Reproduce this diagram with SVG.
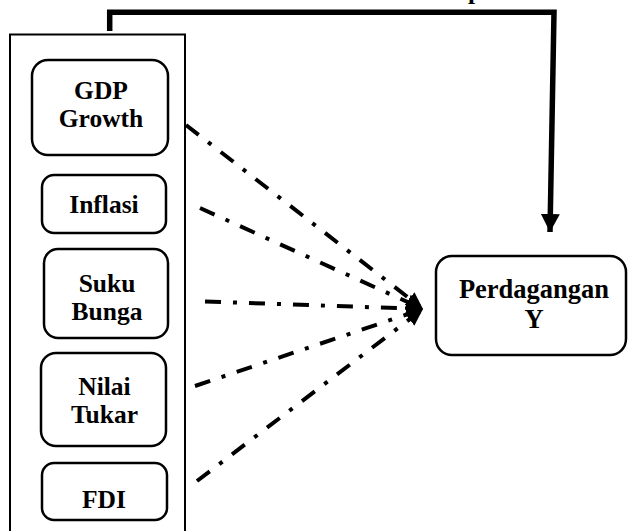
<svg xmlns="http://www.w3.org/2000/svg" width="628" height="531" viewBox="0 0 628 531">
<style>
.box{fill:#fff;stroke:#000;stroke-width:2.5}
.t{font-family:"Liberation Serif","Times New Roman",serif;font-weight:bold;font-size:25.5px;text-anchor:middle;fill:#000}
.dd{stroke:#000;stroke-width:4;fill:none;stroke-dasharray:16 12 4 12;marker-end:url(#ah)}
</style>
<defs>
<marker id="ah" markerUnits="userSpaceOnUse" markerWidth="18" markerHeight="16" refX="17" refY="8" orient="auto">
<path d="M0,0 L17,8 L0,16 Z" fill="#000"/>
</marker>
<marker id="ah2" markerUnits="userSpaceOnUse" markerWidth="20" markerHeight="20" refX="18" refY="9.5" orient="auto">
<path d="M0,0 L18,9.5 L0,19 Z" fill="#000"/>
</marker>
</defs>
<text x="468" y="-1" class="t" style="text-anchor:start">p</text>
<g id="outer"><rect x="10" y="34.5" width="175" height="520" fill="none" stroke="#000" stroke-width="2"/></g>
<g id="connectors">
<path d="M109.7,31 V12.3 H554 L550,232" fill="none" stroke="#000" stroke-width="5.5" stroke-linejoin="miter" marker-end="url(#ah2)"/>
<line class="dd" x1="186" y1="125" x2="423" y2="309"/>
<line class="dd" x1="200" y1="208" x2="423" y2="309"/>
<line class="dd" x1="205" y1="301.5" x2="423" y2="309"/>
<line class="dd" x1="195" y1="386" x2="423" y2="309"/>
<line class="dd" x1="197" y1="481" x2="423" y2="309"/>
</g>
<g id="gdp"><rect class="box" x="32" y="60" width="136" height="95" rx="16"/><text class="t" x="101" y="99">GDP</text><text class="t" x="101" y="127">Growth</text></g>
<g id="inflasi"><rect class="box" x="42" y="175" width="124" height="58" rx="12"/><text class="t" x="104" y="213">Inflasi</text></g>
<g id="suku"><rect class="box" x="44" y="249" width="124" height="89" rx="14"/><text class="t" x="107" y="292">Suku</text><text class="t" x="107" y="320">Bunga</text></g>
<g id="nilai"><rect class="box" x="41" y="353" width="125" height="93" rx="15"/><text class="t" x="104.5" y="395">Nilai</text><text class="t" x="104.5" y="423">Tukar</text></g>
<g id="fdi"><rect class="box" x="42" y="463" width="125" height="57" rx="12"/><text class="t" x="104" y="508">FDI</text></g>
<g id="perdagangan"><rect class="box" x="436" y="256" width="190" height="99" rx="16"/><text class="t" x="534" y="298" style="font-size:26.5px">Perdagangan</text><text class="t" x="534" y="328" style="font-size:26.5px">Y</text></g>
</svg>
